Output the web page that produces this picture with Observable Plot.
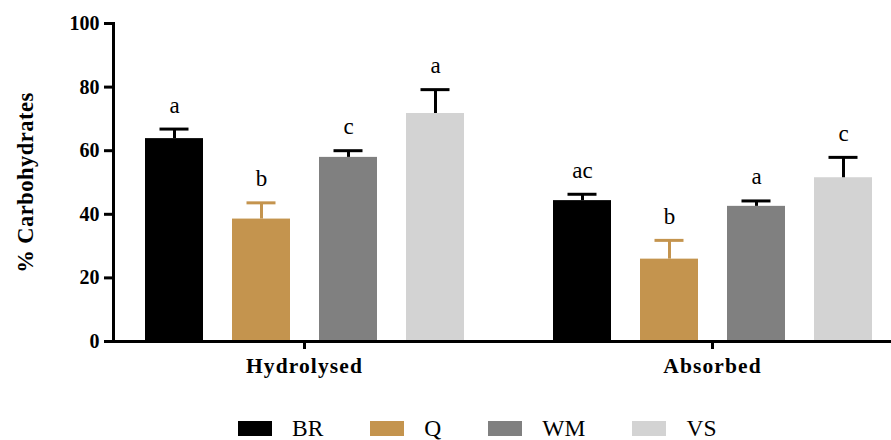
<!DOCTYPE html>
<html>
<head>
<meta charset="utf-8">
<script src="https://cdn.jsdelivr.net/npm/d3@7"></script>
<script src="https://cdn.jsdelivr.net/npm/@observablehq/plot@0.6"></script>
<style>
  html, body { margin: 0; padding: 0; background: #fff; }
  #chart svg { display: block; }
  #chart svg, #chart svg text { font-family: "Liberation Serif", "Times New Roman", serif !important; }
  #chart g[aria-label="y-axis label"] { font-size: 22.5px !important; letter-spacing: 0.5px; }
  #chart g[aria-label="fx-axis tick label"] { letter-spacing: 1.1px; }
  #legend {
    display: flex; align-items: baseline; box-sizing: border-box;
    height: 50px; padding-top: 25px; padding-left: 238px;
    font-family: "Liberation Serif", "Times New Roman", serif; font-size: 23.5px; line-height: 26px; color: #000;
  }
  #legend .sw { display: inline-block; width: 34px; height: 15px; margin-right: 20px; }
  #legend .lab { margin-right: 47px; }
</style>
</head>
<body>
<div id="chart"></div>
<div id="legend"></div>
<script>
const groups = ["Hydrolysed", "Absorbed"];
const series = ["BR", "Q", "WM", "VS"];
const colors = ["#000000", "#c4944e", "#808080", "#d3d3d3"];
const hydrolysedValues = [63.8, 38.5, 57.9, 71.7];
const hydrolysedErrors = [66.8, 43.6, 60.0, 79.2];
const hydrolysedLetters = ["a", "b", "c", "a"];
const absorbedValues = [44.3, 25.9, 42.5, 51.5];
const absorbedErrors = [46.3, 31.8, 44.2, 57.9];
const absorbedLetters = ["ac", "b", "a", "c"];
const yTicks = [0, 20, 40, 60, 80, 100];

const rows = [];
series.forEach((s, i) => rows.push({group: "Hydrolysed", series: s, value: hydrolysedValues[i], err: hydrolysedErrors[i], letter: hydrolysedLetters[i]}));
series.forEach((s, i) => rows.push({group: "Absorbed", series: s, value: absorbedValues[i], err: absorbedErrors[i], letter: absorbedLetters[i]}));

const serif = "Liberation Serif, Times New Roman, serif";
const errStroke = d => d.series === "Q" ? colors[1] : "#000";

const chart = Plot.plot({
  width: 891,
  height: 390,
  marginLeft: 112,
  marginRight: -12.7,
  marginTop: 23,
  marginBottom: 49,
  style: {fontFamily: serif, background: "#fff", color: "#000"},
  fx: {domain: groups, paddingInner: 0.063, paddingOuter: 0, label: null},
  x: {domain: series, paddingInner: 0.3387, paddingOuter: 0.3535, axis: null},
  y: {domain: [0, 100], label: null},
  color: {domain: series, range: colors},
  marks: [
    Plot.barY(rows, {fx: "group", x: "series", y: "value", fill: "series"}),
    Plot.ruleX(rows, {fx: "group", x: "series", y1: "value", y2: "err", stroke: errStroke, strokeWidth: 3}),
    Plot.tickY(rows, {fx: "group", x: "series", y: "err", stroke: errStroke, strokeWidth: 3, insetLeft: 14.5, insetRight: 14.5}),
    Plot.text(rows, {fx: "group", x: "series", y: "err", text: "letter", lineAnchor: "bottom", dy: -16.5, fontSize: 23, fontFamily: serif, fill: "#000"}),
    Plot.frame({anchor: "left", facet: "super", stroke: "#000", strokeWidth: 3}),
    Plot.frame({anchor: "bottom", facet: "super", stroke: "#000", strokeWidth: 3}),
    Plot.axisY({ticks: yTicks, tickSize: 9, tickPadding: 5, strokeWidth: 3, fontSize: 20, fontWeight: "bold", fontFamily: serif,
      label: "% Carbohydrates", labelArrow: "none", labelAnchor: "center", labelOffset: 96}),
    Plot.axisFx({anchor: "bottom", tickSize: 8, tickPadding: 8, strokeWidth: 3, fontSize: 21.5, fontWeight: "bold", fontFamily: serif, label: null})
  ]
});
document.getElementById("chart").appendChild(chart);

const legend = document.getElementById("legend");
series.forEach((s, i) => {
  const sw = document.createElement("span");
  sw.className = "sw";
  sw.style.background = colors[i];
  const lab = document.createElement("span");
  lab.className = "lab";
  lab.textContent = s;
  legend.appendChild(sw);
  legend.appendChild(lab);
});
</script>
</body>
</html>
